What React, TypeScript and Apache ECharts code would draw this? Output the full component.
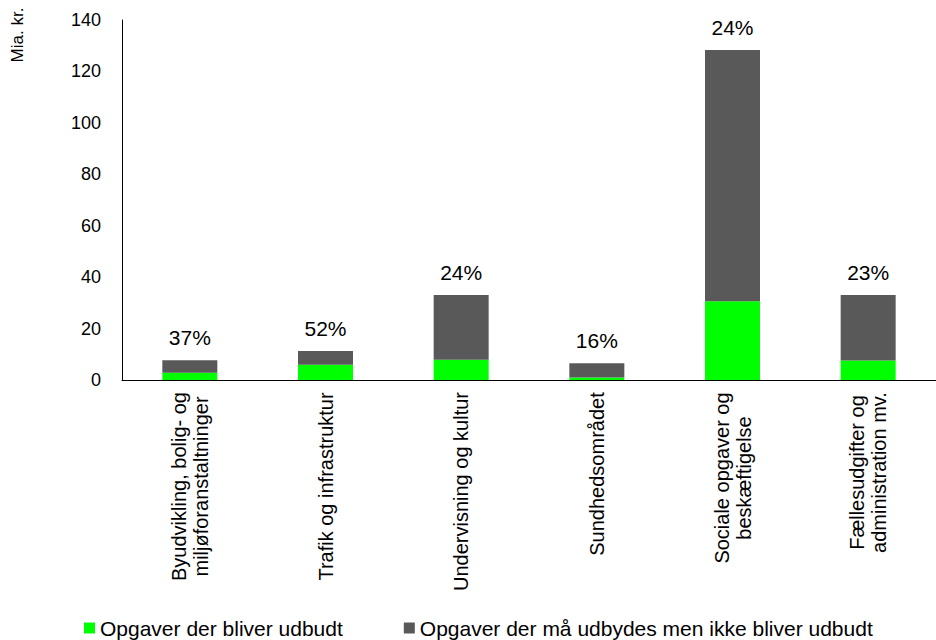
import React, { useEffect, useRef } from "react";
import * as echarts from "echarts";

// Kategorier (linjeskift markerer ombrydning af aksens tekster)
const categories: string[][] = [
  ["Byudvikling, bolig- og", "miljøforanstaltninger"],
  ["Trafik og infrastruktur"],
  ["Undervisning og kultur"],
  ["Sundhedsområdet"],
  ["Sociale opgaver og", "beskæftigelse"],
  ["Fællesudgifter og", "administration mv."],
];

// Mia. kr. pr. område
const udbudt: number[] = [2.85, 5.9, 7.9, 1.0, 30.6, 7.6];
const ikkeUdbudt: number[] = [4.85, 5.4, 25.2, 5.5, 97.7, 25.5];

// Andel der bliver udbudt
const andele: string[] = ["37%", "52%", "24%", "16%", "24%", "23%"];

const yTicks = { min: 0, max: 140, interval: 20 };

const FONT = "'Liberation Sans', Arial, sans-serif";

function measure(text: string, size: number): number {
  const c = document.createElement("canvas").getContext("2d");
  if (!c) return text.length * size * 0.55;
  c.font = `${size}px ${FONT}`;
  return c.measureText(text).width;
}

export default function App() {
  const ref = useRef<HTMLDivElement>(null);

  useEffect(() => {
    document.body.style.margin = "0";
    if (!ref.current) return;
    const chart = echarts.init(ref.current, undefined, { renderer: "svg" });

    const labelSize = 20;
    const rich: Record<string, any> = {};
    categories.forEach((lines, i) => {
      const w = Math.ceil(Math.max(...lines.map((l) => measure(l, labelSize))));
      rich["c" + i] = {
        width: w,
        align: "center",
        fontSize: labelSize,
        lineHeight: 22,
        fontFamily: FONT,
        color: "#000",
      };
    });

    chart.setOption({
      animation: false,
      textStyle: { fontFamily: FONT },
      grid: { left: 122, top: 20, height: 360, width: 825 },
      legend: {
        left: 79,
        top: 612,
        padding: 5,
        itemWidth: 11,
        itemHeight: 11,
        itemGap: 61,
        icon: "rect",
        textStyle: { fontSize: 21, lineHeight: 22, color: "#000", fontFamily: FONT },
        data: ["Opgaver der bliver udbudt", "Opgaver der må udbydes men ikke bliver udbudt"],
      },
      xAxis: {
        type: "category",
        data: categories.map((_, i) => String(i)),
        axisLine: { lineStyle: { color: "#000", width: 1 } },
        axisTick: { show: false },
        axisLabel: {
          rotate: 90,
          margin: 12,
          interval: 0,
          formatter: (_v: string, idx: number) =>
            categories[idx].map((l) => `{c${idx}|${l}}`).join("\n"),
          rich,
        },
      },
      yAxis: {
        type: "value",
        min: yTicks.min,
        max: yTicks.max,
        interval: yTicks.interval,
        axisLine: { show: true, lineStyle: { color: "#000", width: 1 } },
        axisTick: { show: false },
        splitLine: { show: false },
        axisLabel: { fontSize: 18, color: "#000", margin: 21, fontFamily: FONT },
      },
      graphic: [
        {
          type: "text",
          x: 17,
          y: 35,
          rotation: Math.PI / 2,
          style: {
            text: "Mia. kr.",
            fontSize: 17,
            fill: "#000",
            fontFamily: FONT,
            align: "center",
            verticalAlign: "middle",
          },
        },
      ],
      series: [
        {
          name: "Opgaver der bliver udbudt",
          type: "bar",
          stack: "total",
          barWidth: 55,
          data: udbudt,
          itemStyle: { color: "#00ff00" },
        },
        {
          name: "Opgaver der må udbydes men ikke bliver udbudt",
          type: "bar",
          stack: "total",
          barWidth: 55,
          data: ikkeUdbudt,
          itemStyle: { color: "#595959" },
          label: {
            show: true,
            position: "top",
            distance: 12,
            fontSize: 21,
            color: "#000",
            fontFamily: FONT,
            formatter: (p: any) => andele[p.dataIndex],
          },
        },
      ],
    });

    return () => chart.dispose();
  }, []);

  return <div ref={ref} style={{ width: 936, height: 640 }} />;
}
